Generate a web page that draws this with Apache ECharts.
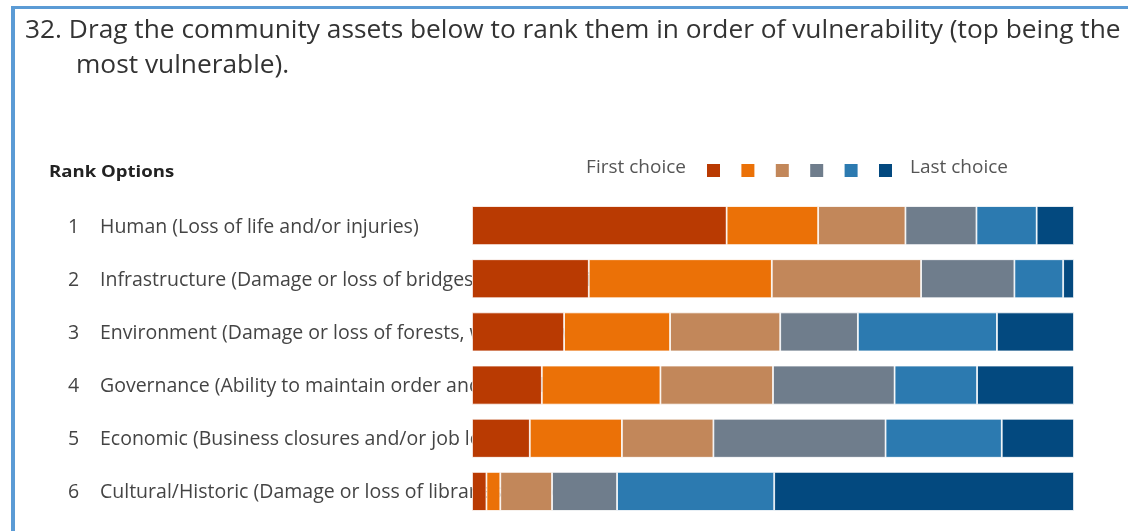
<!DOCTYPE html>
<html>
<head>
<meta charset="utf-8">
<script src="https://cdn.jsdelivr.net/npm/echarts@6/dist/echarts.min.js"></script>
<style>
  html, body { margin: 0; padding: 0; background: #fff; }
  #chart { width: 1128px; height: 531px; }
</style>
</head>
<body>
<div id="chart"></div>
<script>
// Survey question 32: ranking of community assets by vulnerability
const questionLines = [
  '32. Drag the community assets below to rank them in order of vulnerability (top being the',
  'most vulnerable).'
];
const rankNumbers = ['1', '2', '3', '4', '5', '6'];
const assets = [
  'Human (Loss of life and/or injuries)',
  'Infrastructure (Damage or loss of bridges, roads, utilities)',
  'Environment (Damage or loss of forests, wetlands, waterways)',
  'Governance (Ability to maintain order and provide services)',
  'Economic (Business closures and/or job losses)',
  'Cultural/Historic (Damage or loss of libraries, museums)'
];
const choiceNames = ['First choice', 'Second choice', 'Third choice', 'Fourth choice', 'Fifth choice', 'Last choice'];
const choiceColors = ['#B93A02', '#EB7107', '#C2875A', '#6F7D8C', '#2C7AB0', '#03497F'];

// share of respondents (%) placing each asset at each rank position
const firstChoice  = [42.3, 19.4, 15.3, 11.6,  9.6,  2.4];
const secondChoice = [15.2, 30.4, 17.6, 19.7, 15.3,  2.3];
const thirdChoice  = [14.5, 24.8, 18.3, 18.7, 15.2,  8.6];
const fourthChoice = [11.8, 15.5, 12.9, 20.2, 28.6, 10.8];
const fifthChoice  = [10.0,  8.1, 23.1, 13.7, 19.3, 26.1];
const lastChoice   = [ 6.2,  1.8, 12.8, 16.1, 12.0, 49.8];
const choiceValues = [firstChoice, secondChoice, thirdChoice, fourthChoice, fifthChoice, lastChoice];

const FONT = '"Segoe UI", "Open Sans", sans-serif';

const chart = echarts.init(document.getElementById('chart'), null, { renderer: 'canvas' });

chart.setOption({
  backgroundColor: '#ffffff',
  animation: false,
  graphic: [
    // question panel frame (top and left edges)
    { type: 'rect', shape: { x: 11, y: 6, width: 1130, height: 3 }, style: { fill: '#5B9BD5' } },
    { type: 'rect', shape: { x: 11, y: 6, width: 4, height: 540 }, style: { fill: '#5B9BD5' } },
    { type: 'text', left: 25, top: 18, style: { text: questionLines[0], font: '26.3px ' + FONT, fill: '#333333' } },
    { type: 'text', left: 76, top: 53, style: { text: questionLines[1], font: '26.3px ' + FONT, fill: '#333333' } },
    { type: 'text', x: 49, y: 164, scaleX: 1.16, style: { text: 'Rank Options', font: 'bold 16px ' + FONT, fill: '#222222' } },
    { type: 'text', right: 1128 - 686, top: 158, style: { text: 'First choice', font: '19px ' + FONT, fill: '#555555', align: 'right' } },
    { type: 'text', left: 910, top: 158, style: { text: 'Last choice', font: '19px ' + FONT, fill: '#555555' } }
  ],
  legend: {
    left: 700,
    top: 157,
    itemWidth: 15,
    itemHeight: 15,
    itemGap: 17.4,
    selectedMode: false,
    icon: 'rect',
    formatter: () => '',
    data: choiceNames
  },
  grid: { left: 472, right: 54, top: 199, bottom: 13, containLabel: false },
  xAxis: { type: 'value', min: 0, max: 100, show: false },
  yAxis: {
    type: 'category',
    inverse: true,
    data: assets.map((a, i) => rankNumbers[i] + '|' + a),
    axisLine: { show: false },
    axisTick: { show: false },
    axisLabel: {
      align: 'left',
      margin: 404,
      formatter: (v) => {
        const parts = v.split('|');
        return '{n|' + parts[0] + '}{t|' + parts[1] + '}';
      },
      rich: {
        n: { width: 32, fontSize: 19.5, fontFamily: FONT, color: '#444444', padding: [3, 0, 0, 0] },
        t: { fontSize: 19.5, fontFamily: FONT, color: '#444444', padding: [3, 0, 0, 0] }
      }
    }
  },
  series: choiceNames.map((name, i) => ({
    name: name,
    type: 'bar',
    stack: 'rank',
    barWidth: 39,
    data: choiceValues[i],
    itemStyle: { color: choiceColors[i], borderColor: '#ffffff', borderWidth: 0.8 },
    emphasis: { disabled: true }
  }))
});
</script>
</body>
</html>
